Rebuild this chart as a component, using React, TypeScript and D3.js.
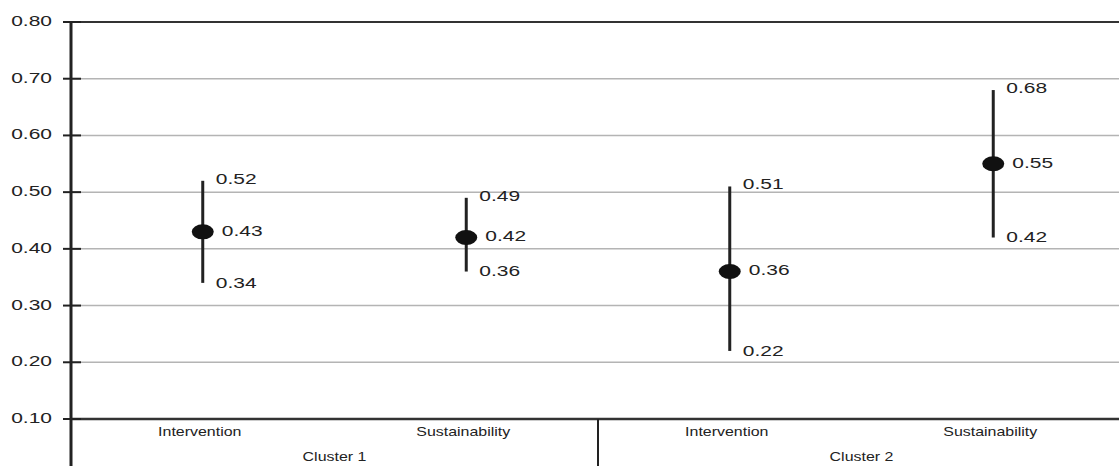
import * as d3 from 'd3';
import * as React from 'react';

const { useRef, useEffect } = React;

const width = 1119;
const height = 466;
const margin = { top: 22, right: -6, bottom: 47, left: 71 };

// categories (inner / outer)
const groups = ['Intervention', 'Sustainability', 'Intervention', 'Sustainability'];
const clusters = ['Cluster 1', 'Cluster 2'];

// estimates with lower / upper bounds
const means = [0.43, 0.42, 0.36, 0.55];
const lows = [0.34, 0.36, 0.22, 0.42];
const highs = [0.52, 0.49, 0.51, 0.68];

const yTicks = [0.1, 0.2, 0.3, 0.4, 0.5, 0.6, 0.7, 0.8];

const font = '"Liberation Sans", Arial, sans-serif';
const ink = '#222';

export default () => {
  const rootRef = useRef<SVGSVGElement>(null);

  useEffect(() => {
    const svgEl = rootRef.current;
    if (!svgEl) {
      return;
    }
    const svg = d3.select(svgEl);
    svg.selectAll('*').remove();

    const y = d3
      .scaleLinear()
      .domain([0.1, 0.8])
      .range([height - margin.bottom, margin.top]);

    const x = d3
      .scaleBand<number>()
      .domain(d3.range(groups.length))
      .range([margin.left, width - margin.right]);

    const xc = d3
      .scaleBand<string>()
      .domain(clusters)
      .range([margin.left, width - margin.right]);

    const x0 = margin.left;
    const x1 = width - margin.right;

    // stretched text helper (the source picture is wide)
    const label = (
      g: d3.Selection<any, any, any, any>,
      tx: number,
      ty: number,
      text: string,
      size: number,
      sx: number,
      anchor: string,
    ) =>
      g
        .append('text')
        .attr('transform', `translate(${tx},${ty}) scale(${sx},1)`)
        .attr('font-family', font)
        .attr('font-size', size)
        .attr('fill', ink)
        .attr('text-anchor', anchor)
        .attr('dominant-baseline', 'middle')
        .text(text);

    // grid lines
    svg
      .append('g')
      .selectAll('line')
      .data(yTicks.filter(t => t > 0.1 && t < 0.8))
      .join('line')
      .attr('x1', x0)
      .attr('x2', x1)
      .attr('y1', d => y(d))
      .attr('y2', d => y(d))
      .attr('stroke', '#b4b4b4')
      .attr('stroke-width', 1.5);

    // top border and category baseline
    svg
      .append('line')
      .attr('x1', x0)
      .attr('x2', x1)
      .attr('y1', y(0.8))
      .attr('y2', y(0.8))
      .attr('stroke', '#333')
      .attr('stroke-width', 2);
    svg
      .append('line')
      .attr('x1', x0)
      .attr('x2', x1)
      .attr('y1', y(0.1))
      .attr('y2', y(0.1))
      .attr('stroke', '#333')
      .attr('stroke-width', 2.5);

    // y axis
    const ax = svg.append('g');
    ax.append('line')
      .attr('x1', x0)
      .attr('x2', x0)
      .attr('y1', y(0.8))
      .attr('y2', height)
      .attr('stroke', ink)
      .attr('stroke-width', 3);
    ax.selectAll('line.tick')
      .data(yTicks)
      .join('line')
      .attr('class', 'tick')
      .attr('x1', x0 - 8)
      .attr('x2', x0 + 10)
      .attr('y1', d => y(d))
      .attr('y2', d => y(d))
      .attr('stroke', ink)
      .attr('stroke-width', 2);
    yTicks.forEach(t => label(ax, 52, y(t), d3.format('.2f')(t), 15, 1.4, 'end'));

    // cluster separator
    svg
      .append('line')
      .attr('x1', xc('Cluster 2') as number)
      .attr('x2', xc('Cluster 2') as number)
      .attr('y1', y(0.1))
      .attr('y2', height)
      .attr('stroke', ink)
      .attr('stroke-width', 2);

    // category labels
    const cats = svg.append('g');
    groups.forEach((gname, i) =>
      label(cats, (x(i) as number) + x.bandwidth() / 2 - 3, 433, gname, 12, 1.33, 'middle'),
    );
    clusters.forEach(c =>
      label(cats, (xc(c) as number) + xc.bandwidth() / 2, 458, c, 12, 1.33, 'middle'),
    );

    // error bars + markers
    const marks = svg.append('g');
    means.forEach((m, i) => {
      const cx = (x(i) as number) + x.bandwidth() / 2;
      marks
        .append('line')
        .attr('x1', cx)
        .attr('x2', cx)
        .attr('y1', y(lows[i]))
        .attr('y2', y(highs[i]))
        .attr('stroke', ink)
        .attr('stroke-width', 3);
      marks
        .append('ellipse')
        .attr('cx', cx)
        .attr('cy', y(m))
        .attr('rx', 11)
        .attr('ry', 7.5)
        .attr('fill', '#111');
      label(marks, cx + 13, y(highs[i]) - 1, highs[i].toFixed(2), 15, 1.4, 'start');
      label(marks, cx + 19, y(m), m.toFixed(2), 15, 1.4, 'start');
      label(marks, cx + 13, y(lows[i]) + 1, lows[i].toFixed(2), 15, 1.4, 'start');
    });
  }, []);

  return (
    <svg
      ref={rootRef}
      width={width}
      height={height}
      style={{ position: 'absolute', left: 0, top: 0, background: '#fff' }}
    />
  );
};
